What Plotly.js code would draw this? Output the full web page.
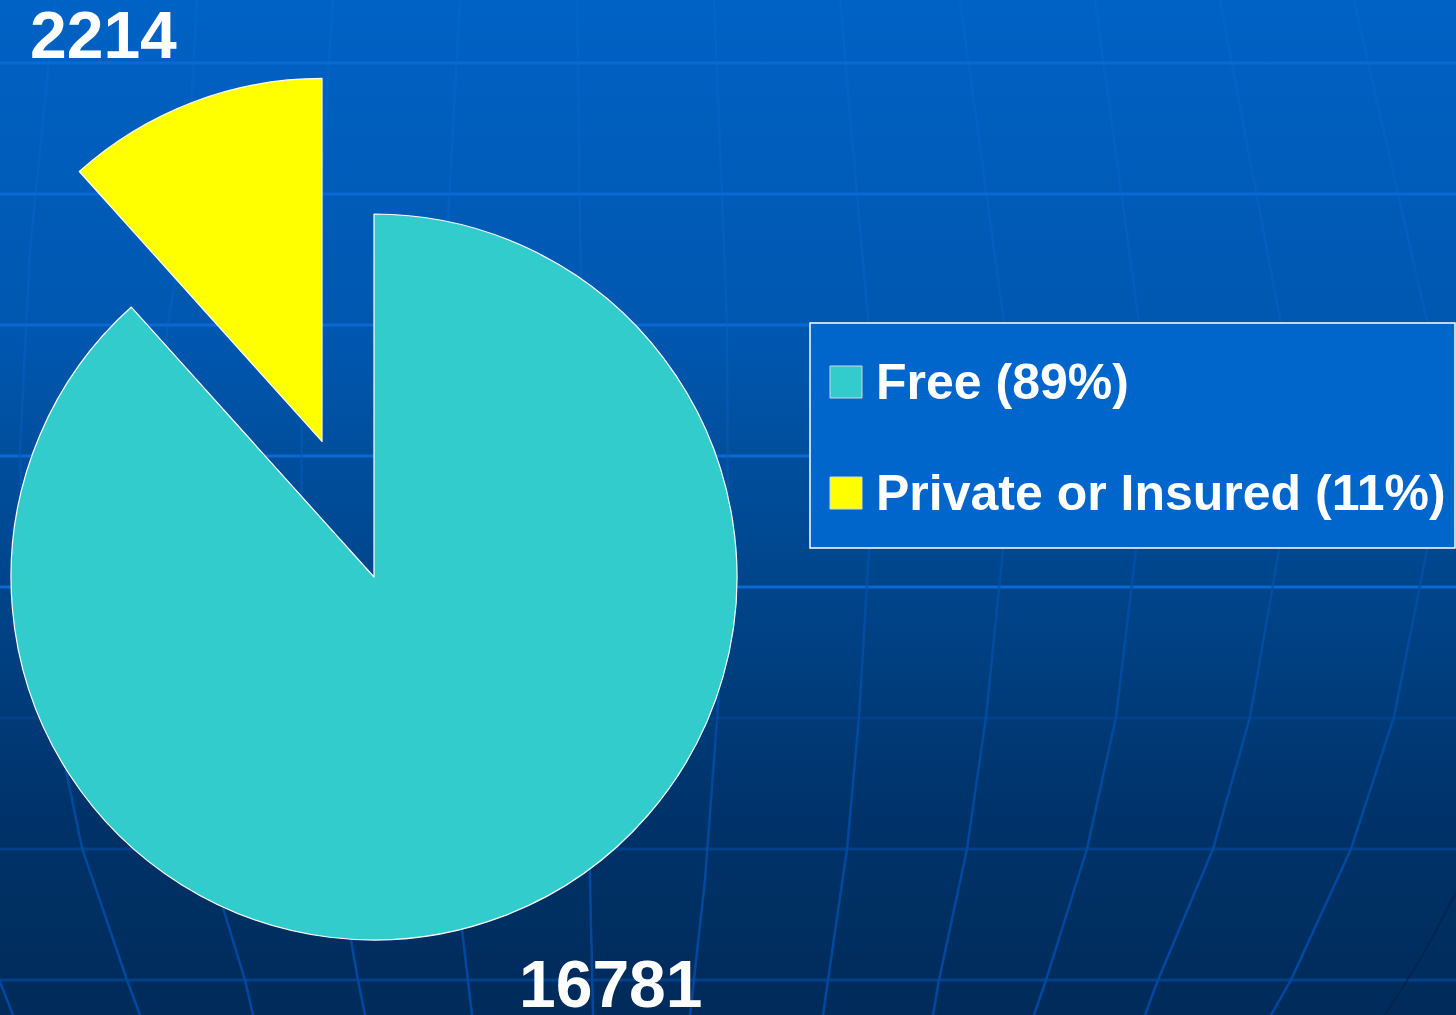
<!DOCTYPE html>
<html><head><meta charset="utf-8">
<script src="https://cdn.plot.ly/plotly-3.0.1.min.js"></script>
<style>
html,body{margin:0;padding:0;width:1456px;height:1015px;overflow:hidden;background:#004a90;}
#bg{position:absolute;left:0;top:0;}
#chart{position:absolute;}
</style></head><body>
<svg id="bg" width="1456" height="1015" xmlns="http://www.w3.org/2000/svg"></svg>
<div id="chart"></div>
<script>
// ---- data ----
const categories = ["Free", "Private or Insured"];
const counts = [16781, 2214];
const legendLabels = ["Free (89%)", "Private or Insured (11%)"];
const sliceColors = ["#33cccc", "#ffff00"];
const pulls = [0, 0.4];

// ---- geometry (page pixels) ----
const PIE_CX = 374, PIE_CY = 577, PIE_R = 363;
const OFFX = 200, OFFY = 60;
const W = 1456 + OFFX, H = 1160;
const px = x => (x + OFFX) / W;
const py = y => 1 - (y + OFFY) / H;
const half = PIE_R * (1 + Math.max(...pulls));

// ---- decorative background (globe grid) ----
const hLines = [63, 194, 325, 456, 587, 718, 849, 980];
const meridians = [
  [[13,1015],[0,982],[-40,849]],
  [[55,0],[30,250],[20,450],[25,580],[55,717],[82,848],[127,980],[140,1015]],
  [[197,0],[185,220],[167,330],[167,550],[184,717],[205,849],[245,980],[253,1015]],
  [[333,0],[320,200],[302,400],[301,550],[318,717],[335,849],[358,980],[365,1015]],
  [[460,0],[448,220],[445,400],[446,550],[455,720],[462,930],[472,1015]],
  [[577,0],[580,220],[585,550],[590,880],[593,1015]],
  [[714,0],[723,220],[727,330],[728,550],[717,720],[705,880],[690,1015]],
  [[840,0],[869,330],[869,550],[859,717],[847,849],[828,980],[823,1015]],
  [[960,0],[1005,330],[1003,550],[986,717],[967,849],[939,980],[933,1015]],
  [[1095,0],[1140,330],[1136,550],[1116,717],[1087,849],[1046,980],[1034,1015]],
  [[1220,0],[1282,330],[1279,550],[1250,717],[1213,849],[1158,980],[1145,1015]],
  [[1354,0],[1429,330],[1427,550],[1394,717],[1351,849],[1291,980],[1271,1015]]
];
let s = `<defs>
<linearGradient id="g" x1="0" y1="0" x2="0" y2="1">
<stop offset="0" stop-color="#0062c5"/><stop offset="0.33" stop-color="#0057af"/>
<stop offset="0.55" stop-color="#00478f"/><stop offset="0.8" stop-color="#00336a"/>
<stop offset="1" stop-color="#002b5a"/></linearGradient>
<linearGradient id="mg" gradientUnits="userSpaceOnUse" x1="0" y1="0" x2="0" y2="1015">
<stop offset="0" stop-color="#0a6ad2" stop-opacity="0.35"/><stop offset="0.33" stop-color="#0a62c6" stop-opacity="0.45"/>
<stop offset="0.55" stop-color="#0052aa" stop-opacity="0.75"/><stop offset="1" stop-color="#0047a0" stop-opacity="1"/></linearGradient>
</defs><rect width="1456" height="1015" fill="url(#g)"/>`;
hLines.forEach(y => {
  const c = y <= 590 ? "#0a69d2" : "#00418a";
  s += `<line x1="0" x2="1456" y1="${y}" y2="${y}" stroke="${c}" stroke-width="3"/>`;
});
meridians.forEach(pts => {
  s += `<polyline fill="none" stroke="url(#mg)" stroke-width="2.5" points="${pts.map(p=>p.join(',')).join(' ')}"/>`;
});
s += `<polyline fill="none" stroke="#00224a" stroke-width="2" opacity="0.6" points="1456,893 1420,960 1385,1015"/>`;
document.getElementById('bg').innerHTML = s;

// ---- chart ----
const chartDiv = document.getElementById('chart');
chartDiv.style.left = (-OFFX) + 'px';
chartDiv.style.top = (-OFFY) + 'px';

const trace = {
  type: 'pie',
  labels: categories,
  values: counts,
  sort: false,
  direction: 'clockwise',
  rotation: 0,
  pull: pulls,
  textinfo: 'none',
  hoverinfo: 'none',
  marker: { colors: sliceColors, line: { color: '#ffffff', width: 1.2 } },
  domain: {
    x: [px(PIE_CX - half), px(PIE_CX + half)],
    y: [py(PIE_CY + half), py(PIE_CY - half)]
  },
  showlegend: false
};

const FONT = "Arial, 'Liberation Sans', sans-serif";
const valuePos = [[610.5, 984], [103.5, 35]];
const annotations = counts.map((v, i) => ({
  xref: 'paper', yref: 'paper', x: px(valuePos[i][0]), y: py(valuePos[i][1]),
  xanchor: 'center', yanchor: 'middle', showarrow: false,
  text: String(v), font: { family: FONT, size: 66, color: '#ffffff', weight: 'bold' }
}));

const LEG = { x0: 810, y0: 323, x1: 1455, y1: 548 };
const legRowY = [382, 493];
const shapes = [{
  type: 'rect', xref: 'paper', yref: 'paper', layer: 'above',
  x0: px(LEG.x0), x1: px(LEG.x1), y0: py(LEG.y1), y1: py(LEG.y0),
  fillcolor: '#0066cc', line: { color: '#ffffff', width: 1.5 }
}];
legendLabels.forEach((lab, i) => {
  const cy = legRowY[i];
  shapes.push({
    type: 'rect', xref: 'paper', yref: 'paper', layer: 'above',
    x0: px(830), x1: px(862), y0: py(cy + 16), y1: py(cy - 16),
    fillcolor: sliceColors[i], line: { color: '#d0d8e0', width: 1 }
  });
  annotations.push({
    xref: 'paper', yref: 'paper', x: px(874), y: py(cy), xanchor: 'left', yanchor: 'middle',
    showarrow: false, text: lab,
    font: { family: FONT, size: 50, color: '#ffffff', weight: 'bold' }
  });
});

const layout = {
  width: W, height: H,
  margin: { l: 0, r: 0, t: 0, b: 0 },
  paper_bgcolor: 'rgba(0,0,0,0)',
  plot_bgcolor: 'rgba(0,0,0,0)',
  showlegend: false,
  shapes: shapes,
  annotations: annotations
};

Plotly.newPlot(chartDiv, [trace], layout, { staticPlot: true, displayModeBar: false });
</script>
</body></html>
